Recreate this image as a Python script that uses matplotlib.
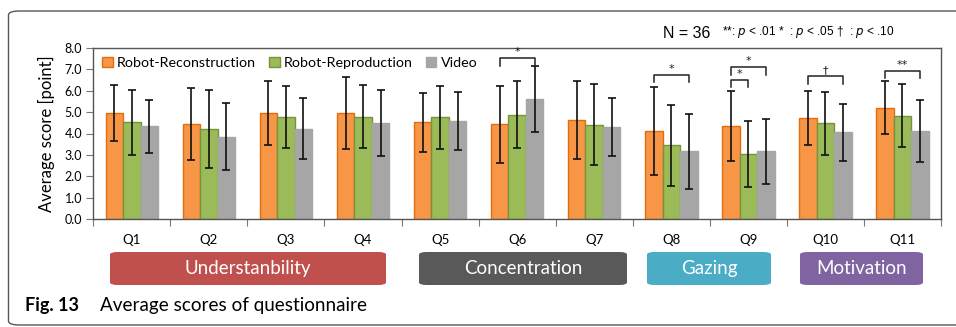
import numpy as np
import matplotlib
matplotlib.use('Agg')
import matplotlib.pyplot as plt
from matplotlib.patches import FancyBboxPatch

questions = ['Q1', 'Q2', 'Q3', 'Q4', 'Q5', 'Q6', 'Q7', 'Q8', 'Q9', 'Q10', 'Q11']
series = ['Robot-Reconstruction', 'Robot-Reproduction', 'Video']

recon_mean = [4.98, 4.45, 4.95, 4.95, 4.52, 4.44, 4.64, 4.13, 4.34, 4.72, 5.20]
recon_sd = [1.31, 1.67, 1.50, 1.68, 1.38, 1.80, 1.83, 2.06, 1.63, 1.28, 1.24]
repro_mean = [4.52, 4.22, 4.77, 4.78, 4.75, 4.88, 4.42, 3.44, 3.03, 4.48, 4.84]
repro_sd = [1.52, 1.82, 1.45, 1.47, 1.49, 1.58, 1.89, 1.89, 1.55, 1.48, 1.46]
video_mean = [4.34, 3.84, 4.22, 4.50, 4.58, 5.61, 4.31, 3.17, 3.16, 4.05, 4.11]
video_sd = [1.25, 1.57, 1.42, 1.55, 1.34, 1.53, 1.35, 1.76, 1.54, 1.35, 1.46]

# significance: (question index, bar a, bar b, bracket height, label)
sig_marks = [
    (5, 0, 2, 7.53, '*'),
    (7, 0, 2, 6.75, '*'),
    (8, 0, 2, 7.09, '*'),
    (8, 0, 1, 6.52, '*'),
    (9, 0, 2, 6.67, '†'),
    (10, 0, 2, 6.94, '**'),
]

# category groups: (label, colour, left px, right px)
groups = [
    ('Understanbility', '#C0504D', 110, 386),
    ('Concentration', '#595959', 419, 627),
    ('Gazing', '#4BACC6', 647, 771),
    ('Motivation', '#8064A2', 800, 923),
]

W, H = 956, 327
fill_cols = ['#F79646', '#9BBB59', '#A6A6A6']
edge_cols = ['#E46C0A', '#77933C', '#A6A6A6']
FONT = 'Lato'


def fx(px):
    return px / W


def fy(py):
    return 1 - py / H


fig = plt.figure(figsize=(W / 100, H / 100), dpi=100)
ax = fig.add_axes([fx(93.3), fy(219), fx(941) - fx(93.3), fy(48) - fy(219)])

x = np.arange(len(questions))
bw = 0.227
means = [recon_mean, repro_mean, video_mean]
sds = [recon_sd, repro_sd, video_sd]
for i in range(3):
    ax.bar(x + (i - 1) * bw, means[i], bw, color=fill_cols[i], edgecolor=edge_cols[i],
           linewidth=1.0, label=series[i], zorder=2)
    ax.errorbar(x + (i - 1) * bw, means[i], yerr=sds[i], fmt='none', ecolor='#111111',
                elinewidth=1.2, capsize=3, capthick=1.2, zorder=3)

# ..significance brackets..
for q, a, b, h, lab in sig_marks:
    xa = q + (a - 1) * bw
    xb = q + (b - 1) * bw
    ax.plot([xa, xa, xb, xb], [h - 0.36, h, h, h - 0.36], color='#222222', lw=1.1,
            clip_on=False, zorder=4)
    ax.text((xa + xb) / 2, h + 0.05, lab, ha='center', va='bottom', fontsize=8,
            family='DejaVu Sans', color='#222222')

ax.set_xlim(-0.5, len(questions) - 0.5)
ax.set_ylim(0, 8)
ax.set_yticks(np.arange(0, 8.1, 1.0))
ax.set_yticklabels([f'{v:.1f}' for v in np.arange(0, 8.1, 1.0)], family=FONT, fontsize=9)
ax.set_xticks(np.arange(-0.5, len(questions), 1.0))
ax.set_xticklabels([])
ax.tick_params(axis='both', direction='out', length=5, width=0.8, color='#777777')
ax.tick_params(axis='y', pad=3)
for s in ax.spines.values():
    s.set_color('#555555')
    s.set_linewidth(1.0)
ax.set_ylabel('Average score [point]', family=FONT, fontsize=12, labelpad=7)

leg = ax.legend(loc='upper left', ncol=3, frameon=False, prop={'family': FONT, 'size': 10.3},
                handlelength=0.75, handleheight=0.75, handletextpad=0.3, columnspacing=0.9,
                borderaxespad=0.2, bbox_to_anchor=(0.0, 1.0))

# ..question labels under the axis..
for i, q in enumerate(questions):
    ax.text(i, -(240 - 219) / (219 - 48), q, transform=ax.get_xaxis_transform(),
            ha='center', va='center', fontsize=9.5, family=FONT)

# ..category boxes..
for lab, col, x0, x1 in groups:
    box = FancyBboxPatch((fx(x0), fy(285)), fx(x1) - fx(x0), fy(252) - fy(285),
                         boxstyle='round,pad=0,rounding_size=0.008', transform=fig.transFigure,
                         facecolor=col, edgecolor='none', zorder=1)
    fig.patches.append(box)
    fig.text(fx((x0 + x1) / 2), fy(268.5), lab, ha='center', va='center', color='white',
             fontsize=13.5, family=FONT)

# ..header notes and caption..
fig.text(fx(663), fy(33), 'N = 36', ha='left', va='center', fontsize=11.5,
         family='Liberation Sans')
fig.text(fx(722), fy(32), r'**: $p$ < .01 *  : $p$ < .05 †  : $p$ < .10', ha='left', va='center',
         fontsize=8.5, family='Liberation Sans')
fig.text(fx(25), fy(306), 'Fig. 13', ha='left', va='center', fontsize=13, family=FONT,
         weight='bold')
fig.text(fx(100), fy(306), 'Average scores of questionnaire', ha='left', va='center',
         fontsize=13.6, family=FONT)

# ..outer rounded frame..
frame = FancyBboxPatch((fx(8.5), fy(325)), fx(W + 30) - fx(8.5), fy(11) - fy(325),
                       boxstyle='round,pad=0,rounding_size=0.012', transform=fig.transFigure,
                       facecolor='none', edgecolor='#555555', linewidth=1.0, clip_on=False)
fig.patches.append(frame)

fig.savefig('out.png', dpi=100)
